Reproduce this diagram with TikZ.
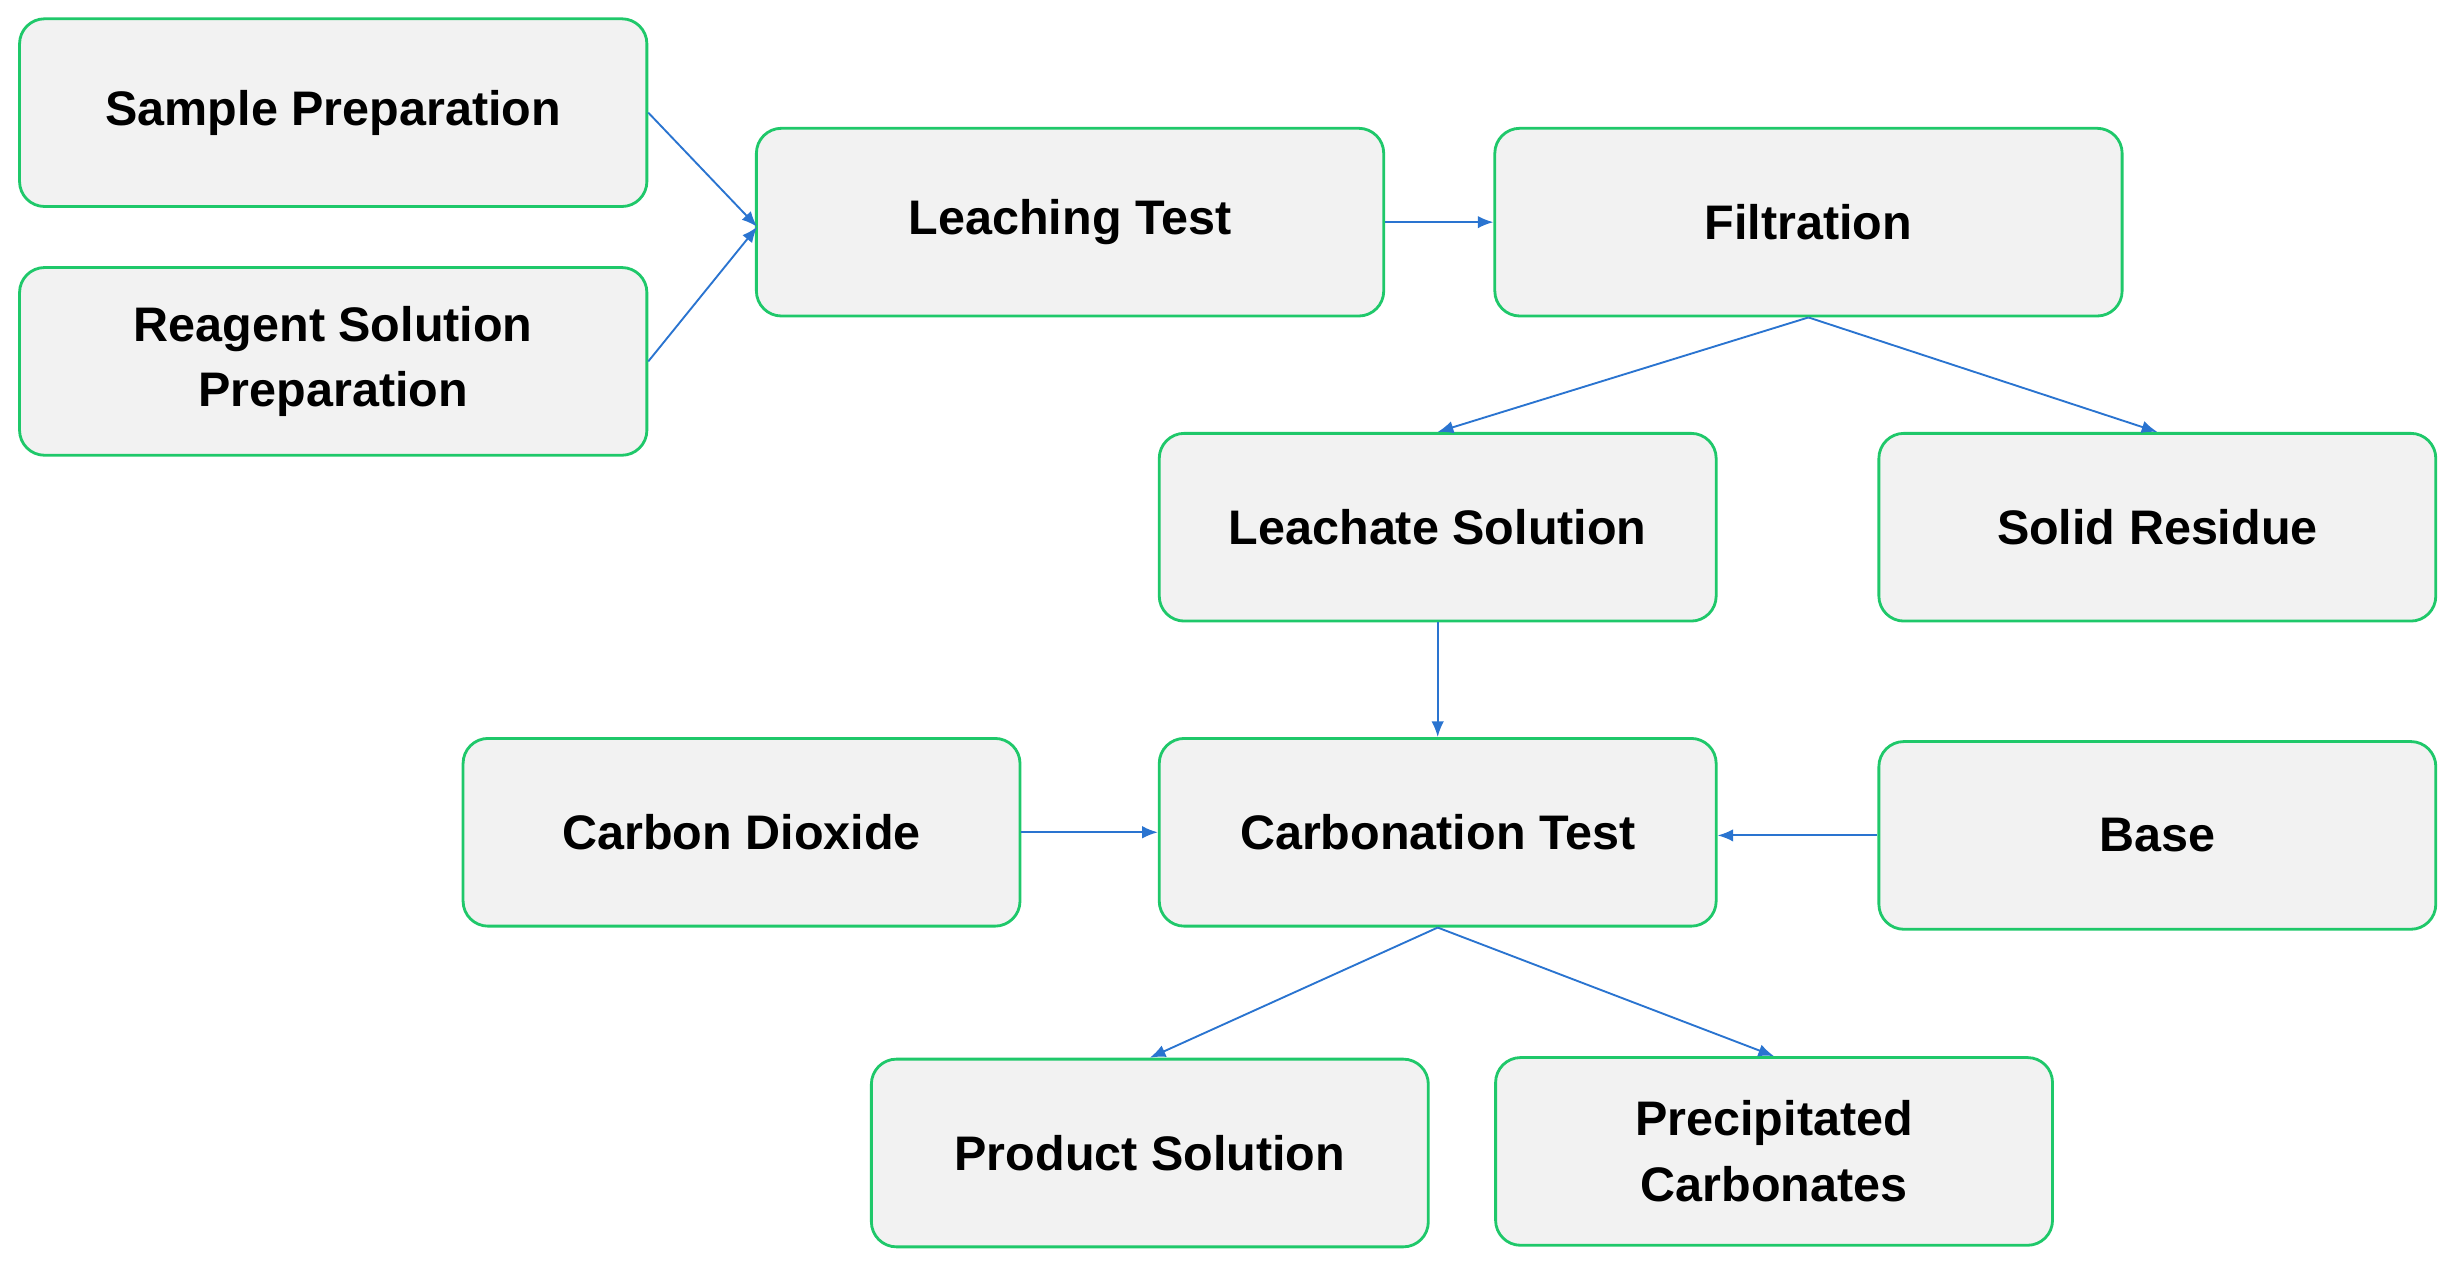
\documentclass[tikz,border=0pt]{standalone}
\usepackage{fontspec}
\setmainfont{Liberation Sans}
\usetikzlibrary{arrows.meta}
\definecolor{bfill}{HTML}{F2F2F2}
\definecolor{bdraw}{HTML}{1FC86A}
\definecolor{arr}{HTML}{2A74D0}
\begin{document}
\begin{tikzpicture}[x=0.5pt,y=-0.5pt,
 box/.style={draw=bdraw,line width=0.9pt,fill=bfill,rounded corners=8pt,minimum height=60pt,align=center,font=\fontsize{15.5}{21}\selectfont\bfseries},
 w1/.style={box,minimum width=200.5pt},
 w2/.style={box,minimum width=178pt},
 ar/.style={draw=arr,line width=0.6pt,-{Latex[length=5pt,width=4pt]}}]
\useasboundingbox (0,0) rectangle (1568,810);
\node[w1] (sp) at (213,72) {Sample Preparation};
\node[w1] (rs) at (213,231) {Reagent Solution\\Preparation};
\node[w1] (lt) at (684,142) {Leaching Test};
\node[w1] (fi) at (1156,142) {Filtration};
\node[w2] (ls) at (919,337) {Leachate Solution};
\node[w2] (sr) at (1379,337) {Solid Residue};
\node[w2] (cd) at (474,532) {Carbon Dioxide};
\node[w2] (ct) at (919,532) {Carbonation Test};
\node[w2] (ba) at (1379,534) {Base};
\node[w2] (ps) at (735,737) {Product Solution};
\node[w2] (pc) at (1134,736) {Precipitated\\Carbonates};
\coordinate (lin) at (484,145);
\draw[ar] (sp.east) -- (lin);
\draw[ar] (rs.east) -- (lin);
\draw[ar] (lt.east) -- (fi.west);
\draw[ar] (fi.south) -- (ls.north);
\draw[ar] (fi.south) -- (sr.north);
\draw[ar] (ls.south) -- (ct.north);
\draw[ar] (cd.east) -- (ct.west);
\draw[ar] (ba.west) -- (ct.east |- ba.west);
\draw[ar] (ct.south) -- (ps.north);
\draw[ar] (ct.south) -- (pc.north);
\end{tikzpicture}
\end{document}
